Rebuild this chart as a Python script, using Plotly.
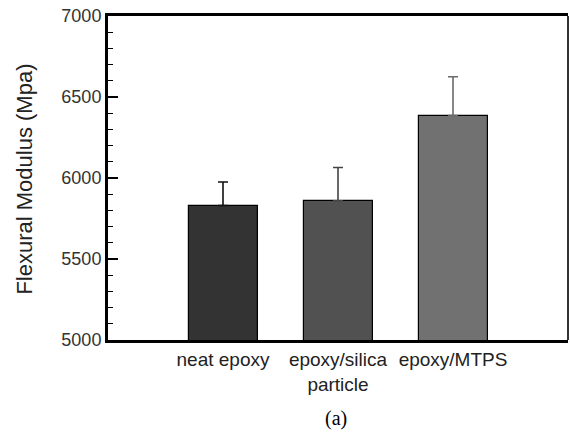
import plotly.graph_objects as go

categories = ["neat epoxy", "epoxy/silica<br>particle", "epoxy/MTPS"]
modulus = [5830, 5860, 6385]
errors = [145, 205, 240]
bar_colors = ["#333333", "#515151", "#717171"]
err_colors = ["#111111", "#444444", "#6a6a6a"]
y_ticks = [5000, 5500, 6000, 6500, 7000]

fig = go.Figure()
for i in range(len(categories)):
    fig.add_trace(go.Bar(
        x=[i], y=[modulus[i]], width=0.6,
        marker=dict(color=bar_colors[i], line=dict(color="#000000", width=1.2)),
        error_y=dict(type="data", array=[errors[i]], symmetric=False, arrayminus=[0],
                     color=err_colors[i], thickness=1.6, width=5),
        showlegend=False, hoverinfo="skip",
    ))

fig.update_layout(
    width=570, height=433,
    margin=dict(l=108, r=2, t=16, b=93, autoexpand=False),
    paper_bgcolor="white", plot_bgcolor="white",
    font=dict(family="Liberation Sans, Arial, sans-serif", color="#222222"),
    bargap=0,
    xaxis=dict(
        range=[-1, 3], tickvals=[0, 1, 2], ticktext=categories,
        showline=True, linewidth=3, linecolor="black", mirror=True,
        ticks="", showgrid=False, zeroline=False, automargin=False,
        tickfont=dict(size=19, color="#222222"),
    ),
    yaxis=dict(
        range=[5000, 7000], tickvals=y_ticks,
        showline=True, linewidth=3, linecolor="black",
        ticks="inside", ticklen=10, tickwidth=2, tickcolor="black",
        minor=dict(ticks="inside", dtick=100, ticklen=5, tickwidth=1, tickcolor="black"),
        showgrid=False, zeroline=False, automargin=False,
        ticklabeloverflow="allow",
        tickfont=dict(size=18, color="#333333"),
    ),
    shapes=[dict(type="line", xref="paper", yref="paper", x0=1, x1=1, y0=0, y1=1,
                 line=dict(color="#333333", width=2))],
    annotations=[
        dict(text="Flexural Modulus (Mpa)", textangle=-90, xref="paper", yref="paper",
             x=(25 - 108) / 460, y=0.495, xanchor="center", yanchor="middle", showarrow=False,
             font=dict(family="Liberation Sans, Arial, sans-serif", size=22, color="#222222")),
        dict(text="(a)", xref="paper", yref="paper", x=(336 - 108) / 460, y=-(418 - 340) / 324,
             xanchor="center", yanchor="middle", showarrow=False,
             font=dict(family="Liberation Serif, Times New Roman, serif", size=20, color="black")),
    ],
)

# remove the default page margin so the figure starts at the window's top-left corner
fig.write_html("out.html", config={"displayModeBar": False},
               post_script="document.body.style.margin='0';document.body.style.overflow='hidden';")
